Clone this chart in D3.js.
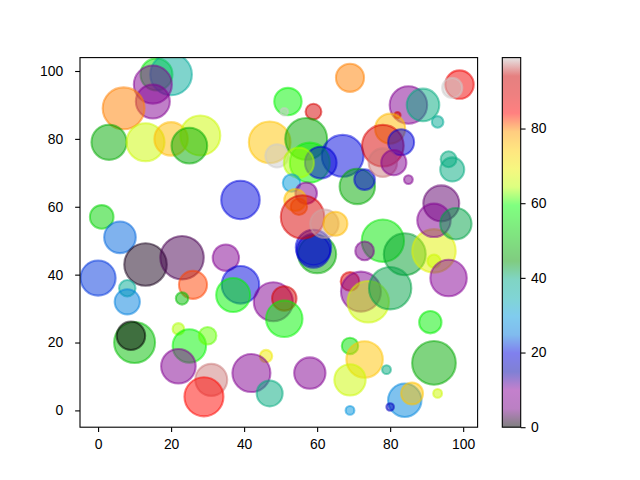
<!DOCTYPE html>
<html>
<head>
<meta charset="utf-8">
<script src="https://cdn.jsdelivr.net/npm/d3@7"></script>
<style>
body { margin: 0; background: #ffffff; }
text { font-family: "Liberation Sans", "DejaVu Sans", sans-serif; }
</style>
</head>
<body>
<svg id="chart" width="640" height="480"></svg>
<script>
// values (integers 0..99, sizes in points^2)
var x_values = [16, 20, 15, 15, 7, 3, 13, 20, 28, 25,
    1, 6, 13, 23, 0, 8, 8, 26, 23, 10,
    9, 22, 25, 30, 22, 31, 29, 35, 39, 37,
    48, 51, 51, 46, 42, 47, 58, 60, 59, 59,
    78, 84, 92, 92, 73, 96, 69, 72, 74, 80,
    91, 69, 73, 69, 79, 92, 93, 84, 86, 80,
    69, 69, 52, 51, 59, 47, 49, 57, 67, 58,
    61, 55, 71, 73, 53, 57, 54, 55, 56, 62,
    65, 39, 99, 97, 85, 89, 93, 82, 80, 78,
    83, 78, 81, 85, 96, 97, 94, 92, 98];
var y_values = [99, 99, 96, 91, 89, 79, 79, 80, 81, 78,
    57, 51, 43, 45, 39, 36, 32, 37, 33, 20,
    22, 24, 19, 22, 13, 9, 4, 45, 37, 34,
    32, 33, 27, 16, 11, 5, 11, 46, 48, 47,
    50, 46, 47, 44, 47, 39, 38, 35, 32, 36,
    26, 19, 15, 9, 12, 14, 5, 3, 5, 1,
    0, 98, 91, 88, 88, 79, 75, 80, 75, 73,
    73, 73, 66, 68, 67, 64, 62, 60, 57, 55,
    55, 62, 96, 95, 90, 90, 85, 87, 83, 78,
    79, 73, 73, 68, 74, 71, 61, 56, 55];
var color_values = [56, 37, 8, 8, 80, 47, 66, 76, 66, 47,
    53, 24, 1, 3, 22, 38, 26, 82, 50, 50,
    0, 64, 58, 62, 8, 97, 84, 8, 20, 58,
    8, 92, 58, 70, 8, 40, 8, 47, 20, 18,
    56, 43, 68, 66, 6, 9, 89, 8, 66, 42,
    57, 55, 75, 66, 40, 47, 66, 27, 75, 17,
    29, 80, 58, 99, 91, 75, 99, 47, 20, 58,
    19, 64, 47, 19, 30, 8, 75, 80, 90, 98,
    76, 20, 86, 99, 8, 40, 38, 93, 76, 90,
    19, 97, 8, 8, 40, 40, 4, 8, 42];
var size_values = [530, 900, 750, 600, 910, 640, 750, 580, 830, 660,
    290, 520, 940, 980, 640, 140, 330, 410, 80, 870,
    420, 70, 580, 160, 620, 530, 790, 360, 730, 600,
    790, 310, 690, 80, 750, 350, 510, 750, 650, 580,
    930, 910, 980, 90, 180, 690, 180, 830, 890, 930,
    260, 140, 690, 510, 40, 990, 40, 580, 250, 30,
    40, 410, 390, 30, 130, 900, 280, 910, 910, 830,
    520, 470, 650, 220, 160, 240, 250, 140, 980, 420,
    300, 770, 420, 210, 730, 550, 70, 20, 470, 900,
    350, 420, 330, 40, 130, 300, 670, 580, 510];

var x_ticks = [0, 20, 40, 60, 80, 100];
var y_ticks = [0, 20, 40, 60, 80, 100];
var colorbar_ticks = [0, 20, 40, 60, 80];

// nipy_spectral anchors, evenly spaced from 0 to 1
var cmap_colors = ["#000000", "#770088", "#880099", "#0000aa", "#0000dd",
    "#0077dd", "#0099dd", "#00aaaa", "#00aa88", "#009900",
    "#00bb00", "#00dd00", "#00ff00", "#bbff00", "#eeee00",
    "#ffcc00", "#ff9900", "#ff0000", "#dd0000", "#cc0000", "#cccccc"];

var plot = {left: 80, right: 477.6, top: 57.6, bottom: 427.2};
var cbar = {left: 502.3, right: 520.7};
var tick_len = 4.86;
var font_px = "13.9px";

function padded_extent(values)
{
    var ext = d3.extent(values);
    var pad = (ext[1] - ext[0]) * 0.05;
    return [ext[0] - pad, ext[1] + pad];
}

function style_axis(g)
{
    g.select(".domain").remove();
    g.selectAll(".tick line").attr("stroke", "#000").attr("stroke-width", 1.1);
    g.selectAll(".tick text").attr("fill", "#000").style("font-size", font_px)
        .style("font-family", "'Liberation Sans', 'DejaVu Sans', sans-serif");
}

function draw_chart()
{
    var svg = d3.select("#chart");
    svg.append("rect").attr("width", 640).attr("height", 480).attr("fill", "#fff");

    var x = d3.scaleLinear().domain(padded_extent(x_values)).range([plot.left, plot.right]);
    var y = d3.scaleLinear().domain(padded_extent(y_values)).range([plot.bottom, plot.top]);
    // marker area in points^2 -> radius in px at 100 dpi
    var radius = d3.scaleSqrt().domain([0, 1]).range([0, 50 / 72]);

    var cmap_pos = cmap_colors.map(function(c, i) { return i / (cmap_colors.length - 1); });
    var cmap = d3.scaleLinear().domain(cmap_pos).range(cmap_colors).interpolate(d3.interpolateRgb);
    var color_ext = d3.extent(color_values);
    var norm = d3.scaleLinear().domain(color_ext).range([0, 1]);

    var points = [];
    for (var i = 0; i < x_values.length; i++)
    {
        points.push({x: x_values[i], y: y_values[i], c: color_values[i], s: size_values[i]});
    }

    svg.append("clipPath").attr("id", "plot-clip").append("rect")
        .attr("x", plot.left).attr("y", plot.top)
        .attr("width", plot.right - plot.left).attr("height", plot.bottom - plot.top);

    svg.append("g").attr("clip-path", "url(#plot-clip)")
        .selectAll("circle").data(points).enter().append("circle")
        .attr("cx", function(d) { return x(d.x); })
        .attr("cy", function(d) { return y(d.y); })
        .attr("r", function(d) { return radius(d.s); })
        .attr("fill", function(d) { return cmap(norm(d.c)); })
        .attr("stroke", function(d) { return cmap(norm(d.c)); })
        .attr("fill-opacity", 0.5)
        .attr("stroke-opacity", 0.5)
        .attr("stroke-width", 2.08);

    var x_axis = d3.axisBottom(x).tickValues(x_ticks).tickSize(tick_len).tickPadding(7).tickFormat(d3.format("d"));
    svg.append("g").attr("transform", "translate(0," + plot.bottom + ")").call(x_axis).call(style_axis);

    var y_axis = d3.axisLeft(y).tickValues(y_ticks).tickSize(tick_len).tickPadding(12).tickFormat(d3.format("d"));
    svg.append("g").attr("transform", "translate(" + plot.left + ",0)").call(y_axis).call(style_axis);

    svg.append("rect")
        .attr("x", plot.left).attr("y", plot.top)
        .attr("width", plot.right - plot.left).attr("height", plot.bottom - plot.top)
        .attr("fill", "none").attr("stroke", "#000").attr("stroke-width", 1.1);

    // colorbar
    var grad = svg.append("defs").append("linearGradient").attr("id", "cbar-grad")
        .attr("x1", 0).attr("y1", 1).attr("x2", 0).attr("y2", 0);
    for (var k = 0; k <= 100; k++)
    {
        grad.append("stop").attr("offset", k / 100)
            .attr("stop-color", cmap(k / 100)).attr("stop-opacity", 0.5);
    }
    svg.append("rect")
        .attr("x", cbar.left).attr("y", plot.top)
        .attr("width", cbar.right - cbar.left).attr("height", plot.bottom - plot.top)
        .attr("fill", "url(#cbar-grad)");

    var c_scale = d3.scaleLinear().domain(color_ext).range([plot.bottom, plot.top]);
    var c_axis = d3.axisRight(c_scale).tickValues(colorbar_ticks).tickSize(tick_len).tickPadding(5.5).tickFormat(d3.format("d"));
    svg.append("g").attr("transform", "translate(" + cbar.right + ",0)").call(c_axis).call(style_axis);

    svg.append("rect")
        .attr("x", cbar.left).attr("y", plot.top)
        .attr("width", cbar.right - cbar.left).attr("height", plot.bottom - plot.top)
        .attr("fill", "none").attr("stroke", "#000").attr("stroke-width", 1.1);
}

draw_chart();
</script>
</body>
</html>
